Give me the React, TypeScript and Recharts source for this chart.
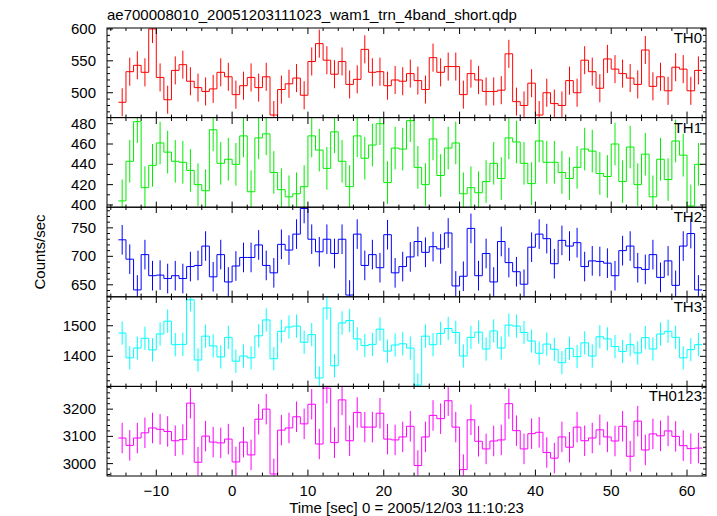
import { ComposedChart, Line, Scatter, ErrorBar, XAxis, YAxis } from 'recharts'

const FONT = '"Liberation Sans", Arial, Helvetica, sans-serif'
const FONT_SIZE = 15

// left edges of the 1 s time bins [sec]
const BIN_START = [
  -15, -14, -13, -12, -11, -10, -9, -8, -7, -6, -5, -4, -3, -2, -1, 0, 1, 2, 3, 4,
  5, 6, 7, 8, 9, 10, 11, 12, 13, 14, 15, 16, 17, 18, 19, 20, 21, 22, 23, 24,
  25, 26, 27, 28, 29, 30, 31, 32, 33, 34, 35, 36, 37, 38, 39, 40, 41, 42, 43, 44,
  45, 46, 47, 48, 49, 50, 51, 52, 53, 54, 55, 56, 57, 58, 59, 60, 61,
]
const BIN_WIDTH = 1

// count rates [counts/sec]
const TH0 = [
  485, 533, 543, 532, 600, 524, 489, 535, 544, 518,
  508, 502, 506, 532, 525, 497, 511, 524, 508, 525,
  465, 505, 514, 523, 496, 549, 577, 551, 529, 549,
  513, 521, 568, 532, 533, 511, 520, 518, 530, 519,
  505, 555, 532, 541, 541, 497, 530, 520, 502, 502,
  504, 561, 486, 480, 515, 465, 500, 483, 480, 519,
  500, 551, 533, 507, 553, 537, 530, 523, 513, 567,
  510, 525, 503, 540, 537, 503, 535,
]
const TH1 = [
  404, 443, 482, 417, 439, 461, 452, 443, 442, 434,
  420, 414, 474, 441, 445, 440, 468, 413, 466, 470,
  432, 415, 408, 411, 418, 468, 454, 436, 472, 443,
  418, 468, 446, 459, 480, 422, 456, 455, 483, 437,
  420, 465, 429, 456, 461, 411, 417, 412, 423, 441,
  426, 466, 462, 441, 421, 463, 442, 442, 432, 426,
  437, 455, 453, 431, 428, 460, 423, 457, 420, 450,
  408, 445, 425, 463, 449, 399, 440,
]
const TH2 = [
  729, 695, 641, 703, 666, 667, 661, 666, 661, 682,
  684, 718, 664, 703, 655, 683, 698, 698, 720, 684,
  671, 721, 711, 739, 784, 730, 708, 730, 705, 730,
  632, 739, 684, 703, 680, 738, 671, 682, 699, 726,
  707, 717, 713, 741, 648, 665, 749, 666, 705, 655,
  726, 689, 673, 651, 716, 739, 731, 687, 728, 718,
  724, 682, 692, 691, 688, 666, 710, 718, 680, 677,
  703, 663, 692, 649, 718, 740, 641,
]
const TH3 = [
  1476, 1395, 1427, 1459, 1421, 1473, 1515, 1438, 1439, 1585,
  1388, 1466, 1434, 1398, 1462, 1384, 1401, 1395, 1467, 1519,
  1392, 1482, 1496, 1499, 1446, 1471, 1329, 1558, 1369, 1509,
  1517, 1457, 1435, 1439, 1489, 1417, 1437, 1441, 1427, 1306,
  1466, 1438, 1475, 1491, 1478, 1401, 1462, 1479, 1424, 1483,
  1427, 1502, 1499, 1478, 1450, 1410, 1440, 1423, 1379, 1426,
  1399, 1444, 1401, 1464, 1457, 1432, 1416, 1438, 1411, 1461,
  1424, 1473, 1482, 1462, 1395, 1422, 1438,
]
const TH0123 = [
  3094, 3067, 3094, 3113, 3131, 3126, 3118, 3084, 3088, 3222,
  3005, 3101, 3079, 3076, 3090, 3006, 3079, 3032, 3163, 3200,
  2962, 3123, 3131, 3172, 3146, 3218, 3072, 3277, 3077, 3234,
  3084, 3188, 3134, 3134, 3185, 3090, 3087, 3098, 3137, 2993,
  3098, 3177, 3165, 3231, 3134, 2978, 3161, 3082, 3054, 3083,
  3087, 3220, 3121, 3054, 3110, 3115, 3041, 3020, 3098, 3060,
  3134, 3084, 3094, 3124, 3098, 3083, 3137, 3027, 3156, 3050,
  3109, 3102, 3120, 3100, 3066, 3055, 3057,
]

// typical 1-sigma error per band
const ERR_TH0 = 22
const ERR_TH1 = 21
const ERR_TH2 = 26
const ERR_TH3 = 38
const ERR_TH0123 = 56

const X_DOMAIN: [number, number] = [-16.5, 62.5]
const X_TICKS = [
  -16, -14, -12, -10, -8, -6, -4, -2, 0, 2, 4, 6, 8, 10, 12, 14, 16, 18, 20, 22, 24,
  26, 28, 30, 32, 34, 36, 38, 40, 42, 44, 46, 48, 50, 52, 54, 56, 58, 60, 62,
]
const X_MAJOR = [-10, 0, 10, 20, 30, 40, 50, 60]

const TH0_TICKS = [470, 480, 490, 500, 510, 520, 530, 540, 550, 560, 570, 580, 590, 600]
const TH0_MAJOR = [500, 550, 600]
const TH1_TICKS = [400, 410, 420, 430, 440, 450, 460, 470, 480]
const TH1_MAJOR = [400, 420, 440, 460, 480]
const TH2_TICKS = [630, 640, 650, 660, 670, 680, 690, 700, 710, 720, 730, 740, 750, 760, 770, 780]
const TH2_MAJOR = [650, 700, 750]
const TH3_TICKS = [1320, 1340, 1360, 1380, 1400, 1420, 1440, 1460, 1480, 1500, 1520, 1540, 1560, 1580]
const TH3_MAJOR = [1400, 1500]
const TH0123_TICKS = [2960, 2980, 3000, 3020, 3040, 3060, 3080, 3100, 3120, 3140, 3160, 3180, 3200, 3220, 3240, 3260, 3280]
const TH0123_MAJOR = [3000, 3100, 3200]

const PANELS = [
  { name: 'TH0', values: TH0, err: ERR_TH0, color: '#ff0000', domain: [461, 601.5], ticks: TH0_TICKS, major: TH0_MAJOR },
  { name: 'TH1', values: TH1, err: ERR_TH1, color: '#00ee00', domain: [397.4, 485.6], ticks: TH1_TICKS, major: TH1_MAJOR },
  { name: 'TH2', values: TH2, err: ERR_TH2, color: '#0000ff', domain: [629.3, 786.6], ticks: TH2_TICKS, major: TH2_MAJOR },
  { name: 'TH3', values: TH3, err: ERR_TH3, color: '#00ffff', domain: [1301, 1594], ticks: TH3_TICKS, major: TH3_MAJOR },
  { name: 'TH0123', values: TH0123, err: ERR_TH0123, color: '#ff00ff', domain: [2956, 3285], ticks: TH0123_TICKS, major: TH0123_MAJOR },
]

const W = 717
const PLOT_LEFT = 107
const PLOT_RIGHT = 706
const PLOT_TOP = 28
const PANEL_H = 89.6
const PAD = 10
const BOTTOM_EXTRA = 40
const TICK_MAJOR = 6
const TICK_MINOR = 3
const AX = 1 // thickness given to the frame axes so that recharts draws them

const fmt = (v: number) => (v < 0 ? '\u2212' + Math.abs(v) : String(v))

function tickRenderer(side: 'left' | 'right' | 'top' | 'bottom', majors: number[], labels: boolean) {
  return (props: any) => {
    const x = Number(props.x)
    const y = Number(props.y)
    const v = props.payload.value
    const isMajor = majors.includes(v)
    const len = isMajor ? TICK_MAJOR : TICK_MINOR
    let x2 = x
    let y2 = y
    if (side === 'left') x2 = x + len
    if (side === 'right') x2 = x - len
    if (side === 'top') y2 = y + len
    if (side === 'bottom') y2 = y - len
    let label = null
    if (labels && isMajor) {
      if (side === 'left') {
        label = (
          <text x={x - 11} y={y + 5} textAnchor="end" fontSize={FONT_SIZE} fontFamily={FONT} fill="#000">
            {fmt(v)}
          </text>
        )
      } else if (side === 'bottom') {
        label = (
          <text x={x} y={y + 20} textAnchor="middle" fontSize={FONT_SIZE} fontFamily={FONT} fill="#000">
            {fmt(v)}
          </text>
        )
      }
    }
    return (
      <g>
        <line x1={x} y1={y} x2={x2} y2={y2} stroke="#000" strokeWidth={1} />
        {label}
      </g>
    )
  }
}

function Panel({ p, index, last }: { p: (typeof PANELS)[number]; index: number; last: boolean }) {
  const [lo, hi] = p.domain
  const steps = BIN_START.map((t, i) => ({ t, v: p.values[i] }))
  steps.push({ t: BIN_START[BIN_START.length - 1] + BIN_WIDTH, v: p.values[p.values.length - 1] })
  // error bars are cut at the panel frame, as in the original plot
  const points = BIN_START.map((t, i) => {
    const v = p.values[i]
    return {
      t: t + BIN_WIDTH / 2,
      v,
      e: [v - Math.max(v - p.err, lo), Math.min(v + p.err, hi) - v],
    }
  })
  const bottom = last ? BOTTOM_EXTRA : 8
  const top = PLOT_TOP + index * PANEL_H
  const common = {
    allowDataOverflow: true,
    interval: 0 as const,
    tickSize: 0,
    tickMargin: 0,
    axisLine: false,
    tickLine: false,
  }
  return (
    <div style={{ position: 'absolute', left: 0, top: top - PAD }}>
      <ComposedChart
        width={W}
        height={PANEL_H + PAD + bottom}
        margin={{ top: PAD - AX, right: W - PLOT_RIGHT - AX, bottom: bottom - AX, left: PLOT_LEFT - 60 }}
      >
        <XAxis
          {...common}
          xAxisId="b"
          dataKey="t"
          type="number"
          domain={X_DOMAIN}
          ticks={X_TICKS}
          height={AX}
          tick={tickRenderer('bottom', X_MAJOR, last)}
        />
        <XAxis
          {...common}
          xAxisId="t"
          orientation="top"
          dataKey="t"
          type="number"
          domain={X_DOMAIN}
          ticks={X_TICKS}
          height={AX}
          tick={tickRenderer('top', X_MAJOR, false)}
        />
        <YAxis
          {...common}
          yAxisId="l"
          type="number"
          domain={p.domain}
          ticks={p.ticks}
          width={60}
          tick={tickRenderer('left', p.major, true)}
        />
        <YAxis
          {...common}
          yAxisId="r"
          orientation="right"
          type="number"
          domain={p.domain}
          ticks={p.ticks}
          width={AX}
          tick={tickRenderer('right', p.major, false)}
        />
        <Scatter
          xAxisId="b"
          yAxisId="l"
          data={points}
          dataKey="v"
          shape={() => <g />}
          isAnimationActive={false}
        >
          <ErrorBar dataKey="e" direction="y" width={0} stroke={p.color} strokeWidth={1} isAnimationActive={false} />
        </Scatter>
        <Line
          xAxisId="b"
          yAxisId="l"
          data={steps}
          dataKey="v"
          type="stepAfter"
          stroke={p.color}
          strokeWidth={1}
          dot={false}
          activeDot={false}
          isAnimationActive={false}
        />
      </ComposedChart>
    </div>
  )
}

export default function App() {
  const plotMid = (PLOT_LEFT + PLOT_RIGHT) / 2
  const yMid = PLOT_TOP + (PANEL_H * PANELS.length) / 2
  return (
    <div style={{ position: 'absolute', left: 0, top: 0, width: W, height: 516, background: '#fff' }}>
      {PANELS.map((p, i) => (
        <Panel key={p.name} p={p} index={i} last={i === PANELS.length - 1} />
      ))}
      <svg
        width={W}
        height={516}
        style={{ position: 'absolute', left: 0, top: 0, pointerEvents: 'none' }}
        fontFamily={FONT}
        fontSize={FONT_SIZE}
      >
        {PANELS.map((p, i) => (
          <rect
            key={'f' + p.name}
            x={PLOT_LEFT}
            y={PLOT_TOP + i * PANEL_H}
            width={PLOT_RIGHT - PLOT_LEFT}
            height={PANEL_H}
            fill="none"
            stroke="#000"
            strokeWidth={1}
          />
        ))}
        <text x={PLOT_LEFT} y={20} fill="#000">
          ae700008010_20051203111023_wam1_trn_4band_short.qdp
        </text>
        <text x={45} y={yMid} fill="#000" textAnchor="middle" transform={`rotate(-90 45 ${yMid})`}>
          Counts/sec
        </text>
        <text x={plotMid} y={513} fill="#000" textAnchor="middle">
          Time [sec] 0 = 2005/12/03 11:10:23
        </text>
        {PANELS.map((p, i) => (
          <text key={p.name} x={PLOT_RIGHT - 4} y={PLOT_TOP + i * PANEL_H + 15} fill="#000" textAnchor="end">
            {p.name}
          </text>
        ))}
      </svg>
    </div>
  )
}
